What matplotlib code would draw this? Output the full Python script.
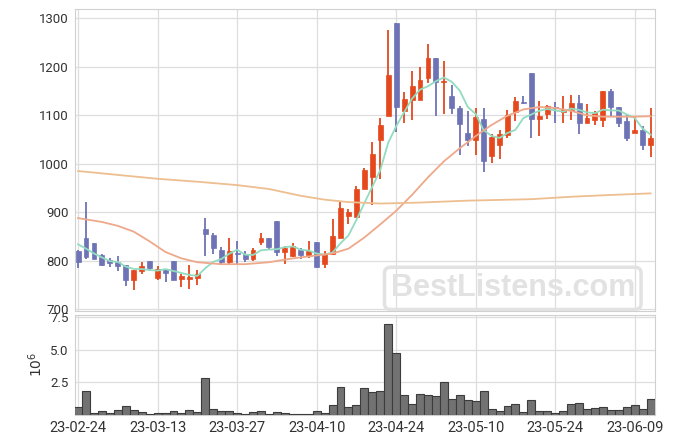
import matplotlib
matplotlib.use("Agg")
import matplotlib.pyplot as plt
import numpy as np
import pandas as pd

plt.rcParams['font.family'] = ['Roboto', 'DejaVu Sans']

# daily candles (one per trading day, index 0..72)
opens = [820, 846, 836, 811, 802, 797, 791, 760, 779, 799,
         764, 782, 799, 763, 762, 764, 865, 853, 822, 797,
         816, 815, 803, 838, 846, 881, 818, 810, 822, 811,
         838, 794, 813, 847, 892, 891, 948, 973, 1048, 1098,
         1291, 1109, 1132, 1132, 1176, 1219, 1168, 1139, 1114, 1063,
         1049, 1092, 1016, 1039, 1059, 1106, 1128, 1188, 1092, 1102,
         1118, 1106, 1110, 1125, 1085, 1091, 1091, 1149, 1116, 1088,
         1064, 1069, 1039]
closes = [797, 808, 804, 791, 796, 789, 760, 780, 790, 785,
          784, 775, 761, 769, 766, 773, 855, 826, 798, 820,
          815, 804, 823, 846, 828, 818, 826, 830, 812, 820,
          787, 815, 851, 908, 900, 947, 988, 1020, 1079, 1182,
          1117, 1133, 1160, 1172, 1217, 1169, 1171, 1115, 1082, 1049,
          1096, 1005, 1055, 1061, 1100, 1129, 1126, 1092, 1099, 1119,
          1114, 1112, 1125, 1085, 1094, 1105, 1149, 1116, 1085, 1053,
          1069, 1039, 1054]
highs = [823, 922, 836, 815, 805, 810, 791, 782, 798, 799,
         789, 782, 799, 773, 792, 782, 889, 857, 828, 847,
         840, 820, 826, 857, 846, 881, 830, 837, 826, 840,
         838, 821, 887, 924, 906, 954, 992, 1044, 1095, 1275,
         1291, 1148, 1191, 1200, 1246, 1219, 1212, 1162, 1119, 1108,
         1115, 1114, 1061, 1069, 1110, 1137, 1140, 1188, 1129, 1122,
         1127, 1140, 1141, 1141, 1123, 1109, 1151, 1154, 1116, 1100,
         1098, 1077, 1114]
lows = [786, 803, 804, 790, 787, 779, 749, 739, 772, 778,
        760, 756, 761, 745, 741, 751, 809, 815, 793, 793,
        794, 798, 800, 832, 824, 810, 794, 808, 804, 806,
        785, 785, 811, 846, 875, 891, 948, 914, 968, 1098,
        1066, 1084, 1091, 1132, 1167, 1099, 1103, 1102, 1019, 1036,
        1019, 982, 1002, 1009, 1053, 1089, 1123, 1054, 1058, 1092,
        1083, 1084, 1090, 1061, 1083, 1079, 1075, 1099, 1075, 1047,
        1064, 1029, 1013]
volume = [0.59, 1.83, 0.13, 0.31, 0.13, 0.38, 0.69, 0.38, 0.23, 0.05,
          0.13, 0.13, 0.31, 0.15, 0.38, 0.23, 2.88, 0.46, 0.31, 0.31,
          0.15, 0.05, 0.23, 0.31, 0.05, 0.23, 0.15, 0.08, 0.08, 0.08,
          0.31, 0.15, 0.75, 2.12, 0.59, 0.74, 2.04, 1.74, 1.88, 7.0,
          4.78, 1.50, 0.82, 1.58, 1.50, 1.43, 2.50, 1.20, 1.50, 1.15,
          1.07, 1.88, 0.43, 0.28, 0.66, 0.82, 0.20, 1.12, 0.28, 0.28,
          0.18, 0.28, 0.82, 0.89, 0.43, 0.51, 0.59, 0.36, 0.36, 0.59,
          0.74, 0.43, 1.20]

# moving averages
ma5_head = [834, 825, 815, 807]
ma20_idx = [0, 3, 5, 7, 9, 11, 13, 15, 18, 21, 24, 27, 30, 32, 34, 36, 38,
            40, 42, 44, 46, 48, 50, 52, 54, 56, 58, 60, 62, 64, 66, 68, 70, 72]
ma20_val = [888, 880, 872, 860, 840, 818, 805, 797, 793, 793, 797, 805, 811,
            815, 825, 848, 875, 903, 936, 972, 1005, 1032, 1057, 1080, 1099,
            1112, 1117, 1115, 1109, 1100, 1097, 1097, 1097, 1098]
ma120_idx = [0, 5, 10, 15, 20, 24, 28, 31, 34, 38, 43, 49, 57, 62, 66, 72]
ma120_val = [985, 977, 969, 963, 956, 948, 934, 926, 921, 918, 920, 924,
             927, 932, 935, 939]

tick_pos = [0, 10, 20, 30, 40, 50, 60, 70]
tick_labels = ['23-02-24', '23-03-13', '23-03-27', '23-04-10',
               '23-04-24', '23-05-10', '23-05-24', '23-06-09']

UP = '#e5481c'
DOWN = '#6e73b6'
GRID = '#dedede'

x = np.arange(len(closes))
o = np.array(opens, float)
c = np.array(closes, float)
h = np.array(highs, float)
l = np.array(lows, float)
ma5 = pd.Series(c).rolling(5).mean().to_numpy()
ma5[:4] = ma5_head

fig = plt.figure(figsize=(6.75, 4.44), dpi=100)
ax = fig.add_axes([74.5 / 675, 1 - 311 / 444, 580.5 / 675, 302 / 444])
axv = fig.add_axes([74.5 / 675, 1 - 415 / 444, 580.5 / 675, 100.5 / 444], sharex=ax)

for a in (ax, axv):
    a.grid(True, color=GRID, linewidth=0.9)
    a.set_axisbelow(True)
    for s in a.spines.values():
        s.set_color('#d0d0d0')
    a.tick_params(length=0, labelsize=9.5, colors='#333333', pad=4)

colors = np.where(c >= o, UP, DOWN)
ax.vlines(x, l, h, colors=colors, linewidth=1.3, zorder=3)
body = np.maximum(np.abs(c - o), 1.2)
ax.bar(x, body, bottom=np.minimum(o, c), width=0.62, color=colors,
       edgecolor=colors, linewidth=0.5, zorder=4)

ax.plot(x, ma5, color='#92dcc0', linewidth=1.3, zorder=5)
ax.plot(ma20_idx, ma20_val, color='#eea88a', linewidth=1.3, zorder=5)
ax.plot(ma120_idx, ma120_val, color='#edbe90', linewidth=1.3, zorder=5)

ax.set_ylim(696.5, 1319)
ax.set_yticks([700, 800, 900, 1000, 1100, 1200, 1300])
ax.set_xlim(-0.45, 72.55)
ax.tick_params(axis='x', labelbottom=False)

ax.text(0.755, 0.075, 'BestListens.com', transform=ax.transAxes,
        ha='center', va='center', fontsize=22, fontweight='bold',
        family='Liberation Sans', color='#e2e2e2', zorder=1,
        bbox=dict(boxstyle='round,pad=0.2', facecolor='none',
                  edgecolor='#e2e2e2', linewidth=2.5))

axv.bar(x, volume, width=1.0, color='#727272', edgecolor='#3c3c3c',
        linewidth=0.8, zorder=3)
axv.set_ylim(0, 7.73)
axv.set_yticks([2.5, 5.0, 7.5])
axv.set_yticklabels(['2.5', '5.0', '7.5'])
axv.set_xticks(tick_pos)
axv.set_xticklabels(tick_labels, fontsize=10.5)
axv.set_ylabel(r'$10^{6}$', fontsize=10, color='#333333', labelpad=4)

fig.savefig('out.png', dpi=100)
